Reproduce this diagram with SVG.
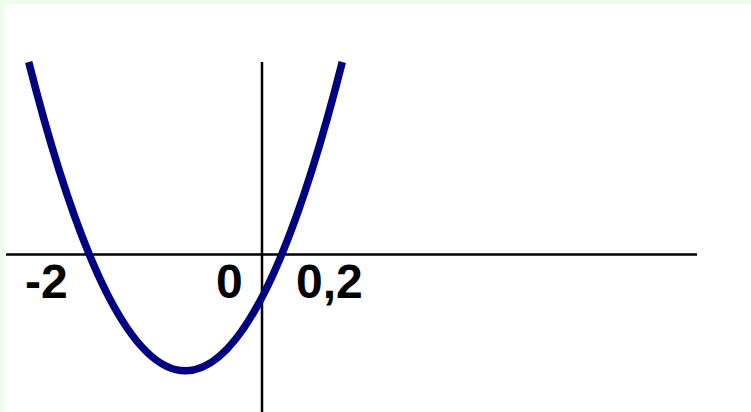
<svg xmlns="http://www.w3.org/2000/svg" width="751" height="412" viewBox="0 0 751 412">
<style>
.axis{stroke:#000;stroke-width:2.5;fill:none}
.curve{stroke:#000080;stroke-width:7.5;fill:none;stroke-linecap:butt}
.lbl{font-family:"Liberation Sans",Arial,sans-serif;font-weight:bold;font-size:48px;fill:#000}
</style>
<rect x="0" y="0" width="751" height="412" fill="#eefeec"/>
<rect x="4" y="4" width="747" height="408" fill="#ffffff"/>
<g id="axes">
<line id="x-axis" class="axis" x1="6" y1="254.5" x2="697" y2="254.5"/>
<line id="y-axis" class="axis" x1="262" y1="62" x2="262" y2="412"/>
</g>
<g id="parabola">
<path class="curve" d="M28.7,62 Q185.5,679.6 342.3,62"/>
</g>
<g id="labels">
<text class="lbl" x="25" y="298">-2</text>
<text class="lbl" x="216" y="298">0</text>
<text class="lbl" x="296" y="298">0,2</text>
</g>
</svg>
